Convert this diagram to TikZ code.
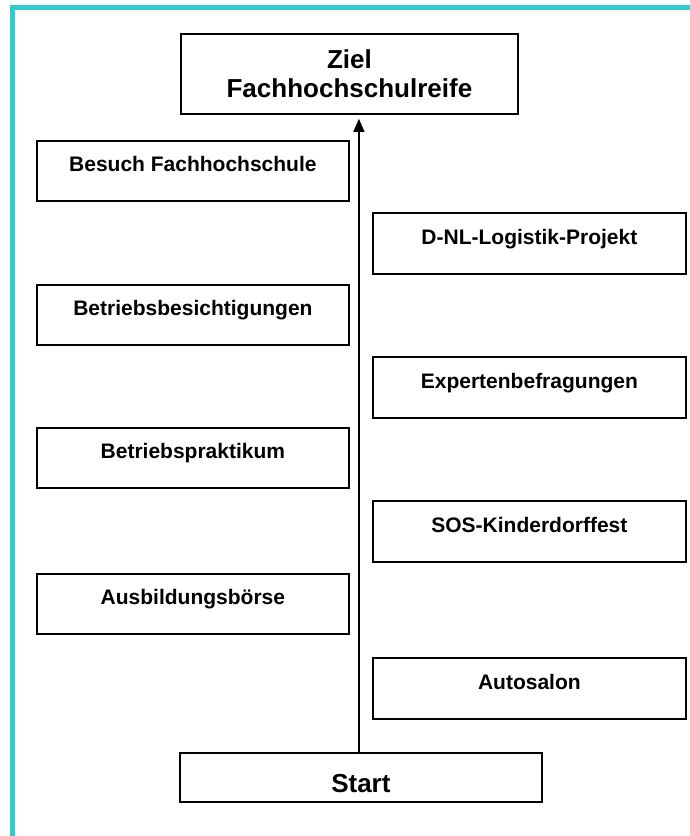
\documentclass[tikz,border=0pt]{standalone}
\usepackage{fontspec}
\setmainfont{Liberation Sans}
\usetikzlibrary{arrows.meta}
\definecolor{frameteal}{RGB}{51,204,204}
\tikzset{
  box/.style={draw=black, line width=1.8pt, inner sep=0pt, anchor=north west,
    font=\fontsize{21}{25}\selectfont\bfseries, align=center},
  leftbox/.style={box, minimum width=312pt, text height=31pt, text depth=29pt},
  rightbox/.style={box, minimum width=313pt, text height=32pt, text depth=29pt},
  bigbox/.style={draw=black, line width=1.8pt, inner sep=0pt, anchor=north west,
    font=\fontsize{26}{29}\selectfont\bfseries, align=center},
  flow/.style={draw=black, line width=1.5pt, -{Triangle[width=11pt,length=13pt]}, shorten >=4pt}
}
\begin{document}
\begin{tikzpicture}[x=1pt,y=-1pt]
\useasboundingbox (0,0) rectangle (690,836);
\draw[frameteal, line width=4.5pt, line join=miter] (12.25,836) -- (12.25,7.25) -- (690,7.25);

\node[bigbox, minimum width=337pt, minimum height=80pt] (ziel) at (180,33) {Ziel\\Fachhochschulreife};
\node[bigbox, minimum width=362pt, text height=40pt, text depth=9pt] (start) at (179,752) {Start};

\node[leftbox] (besuch) at (36,140) {Besuch Fachhochschule};
\node[leftbox] (besicht) at (36,284) {Betriebsbesichtigungen};
\node[leftbox] (prakt) at (36,427) {Betriebspraktikum};
\node[leftbox] (boerse) at (36,573) {Ausbildungsbörse};

\node[rightbox] (dnl) at (372,212) {D-NL-Logistik-Projekt};
\node[rightbox] (experten) at (372,356) {Expertenbefragungen};
\node[rightbox] (sos) at (372,500) {SOS-Kinderdorffest};
\node[rightbox] (auto) at (372,657) {Autosalon};

\draw[flow] ([xshift=-2pt]start.north) -- ([xshift=-2pt]start.north |- ziel.south);
\end{tikzpicture}
\end{document}
